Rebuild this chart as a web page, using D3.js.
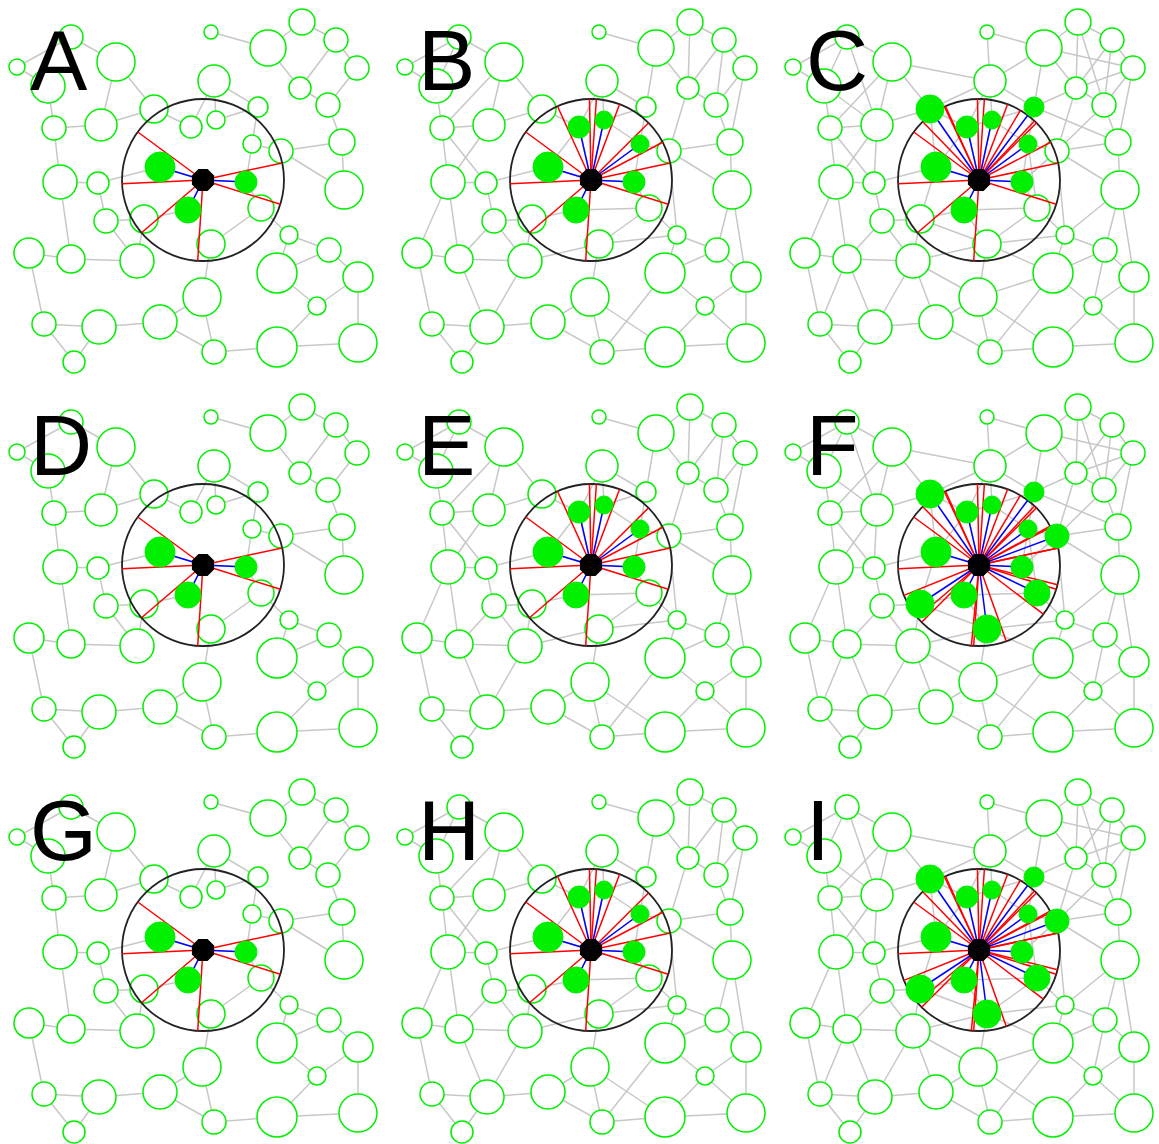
<!DOCTYPE html>
<html>
<head>
<meta charset="utf-8">
<script src="https://cdn.jsdelivr.net/npm/d3@7/dist/d3.min.js"></script>
<style>
  html, body { margin: 0; padding: 0; background: #fff; }
  svg { display: block; }
</style>
</head>
<body>
<svg id="chart" width="1159" height="1144"></svg>
<script>
// Layout coordinates of the network nodes (same layout in every panel).
// Node 0 is the focal node.
const nodeX = [203, 17, 71, 48, 116, 154, 101, 54, 191, 60, 98, 160, 211, 268, 302, 336, 357, 300, 328, 214,
               258, 216, 252, 281, 342, 344, 246, 106, 144, 188, 29, 71, 137, 44, 99, 160, 74, 261, 211, 289,
               329, 277, 358, 202, 317, 214, 277, 358];
const nodeY = [180, 67, 37, 86, 62, 109, 125, 128, 127, 182, 183, 167, 32, 48, 22, 40, 68, 88, 105, 81,
               107, 120, 144, 151, 142, 190, 182, 221, 219, 210, 253, 259, 261, 324, 327, 322, 362, 208, 244, 235,
               250, 273, 277, 297, 306, 352, 347, 343];
const nodeSize = [12, 8, 12, 17, 19, 14, 16, 12, 11, 17, 11, 15, 7, 18, 13, 12, 12, 11, 12, 16,
                  10, 9, 9, 12, 13, 19, 11, 12, 14, 13, 15, 14, 17, 12, 17, 17, 11, 13, 14, 9,
                  12, 20, 15, 19, 9, 12, 20, 19];

// Edge sets: sparse network, plus the links added for the medium and dense networks.
const edgesSparse = [[1,2],[1,3],[2,4],[3,7],[4,5],[4,6],[5,6],[6,7],[7,9],[9,10],[10,11],[5,8],[8,19],
  [19,20],[19,21],[20,21],[20,22],[22,23],[22,26],[23,24],[23,25],[24,25],[18,24],[16,18],[15,16],[17,18],
  [15,17],[13,17],[14,15],[13,14],[12,13],[26,37],[37,39],[37,38],[38,43],[39,41],[39,40],[40,41],[40,42],
  [41,44],[42,44],[42,47],[44,46],[46,47],[45,46],[43,45],[35,45],[35,43],[34,35],[33,34],[33,36],[34,36],
  [30,33],[30,31],[31,32],[9,31],[10,27],[27,28],[27,32],[28,29],[28,32],[0,11],[0,26],[0,29]];
const edgesMediumExtra = [[14,17],[15,18],[13,20],[16,24],[25,40],[25,42],[23,39],[31,34],[32,34],[4,7],
  [6,9],[7,10],[9,30],[27,31],[38,39],[41,45],[43,46],[44,47],[29,37],[32,38],[17,23],[2,3],[0,8],[0,21],
  [0,22],[8,11],[21,22]];
const edgesDenseExtra = [[2,6],[3,6],[6,10],[4,19],[5,19],[31,33],[32,35],[32,43],[14,18],[13,16],[13,19],
  [16,17],[17,20],[18,23],[20,24],[23,26],[25,39],[38,41],[41,43],[40,44],[28,38],[11,28],[29,38],[0,5],
  [0,20],[5,11],[8,21],[22,37],[12,19],[26,23]];

// Highlighted (filled) neighbours of the focal node, panel by panel (A..I).
const panelLabels = ["A", "B", "C", "D", "E", "F", "G", "H", "I"];
const filledA = [11, 26, 29];
const filledB = [11, 8, 21, 22, 26, 29];
const filledC = [5, 8, 21, 20, 22, 11, 26, 29];
const filledF = [5, 8, 21, 20, 22, 23, 11, 26, 37, 28, 29, 38];
const panelFilled = [filledA, filledB, filledC, filledA, filledB, filledF, filledA, filledB, filledF];
const panelEdgeLevel = [0, 1, 2, 0, 1, 2, 0, 1, 2];
const neighbourhoodRadius = 81;

const svg = d3.select("#chart");
const panelStepX = 388, panelStepY = 385;

const edgeSets = [
  edgesSparse,
  edgesSparse.concat(edgesMediumExtra),
  edgesSparse.concat(edgesMediumExtra, edgesDenseExtra)
];

const GREEN = "#00f000";

panelLabels.forEach((label, p) => {
  const col = p % 3, row = Math.floor(p / 3);
  const x = d3.scaleLinear().domain([0, 385]).range([col * panelStepX, col * panelStepX + 385]);
  const y = d3.scaleLinear().domain([0, 385]).range([row * panelStepY, row * panelStepY + 385]);
  const r = d3.scaleLinear().domain([0, 20]).range([0, 20]);

  const g = svg.append("g");
  const nodes = nodeX.map((nx, i) => ({ i, x: nx, y: nodeY[i], s: nodeSize[i] }));
  const filled = new Set(panelFilled[p]);
  const c = nodes[0];
  const cx = x(c.x), cy = y(c.y);
  const R = x(neighbourhoodRadius) - x(0);

  // network links
  g.selectAll("line.edge").data(edgeSets[panelEdgeLevel[p]]).join("line")
    .attr("class", "edge")
    .attr("x1", d => x(nodes[d[0]].x)).attr("y1", d => y(nodes[d[0]].y))
    .attr("x2", d => x(nodes[d[1]].x)).attr("y2", d => y(nodes[d[1]].y))
    .attr("stroke", "#c8c8c8").attr("stroke-width", 1.5);

  // ordinary nodes
  g.selectAll("circle.node").data(nodes.filter(d => d.i !== 0 && !filled.has(d.i))).join("circle")
    .attr("class", "node")
    .attr("cx", d => x(d.x)).attr("cy", d => y(d.y)).attr("r", d => r(d.s))
    .attr("fill", "#fff").attr("stroke", GREEN).attr("stroke-width", 1.5);

  // neighbourhood circle
  g.append("circle").attr("cx", cx).attr("cy", cy).attr("r", R)
    .attr("fill", "none").attr("stroke", "#222").attr("stroke-width", 1.8);

  // tangent rays bounding each highlighted node, as seen from the focal node
  const rays = [];
  nodes.filter(d => filled.has(d.i)).forEach(d => {
    const dx = x(d.x) - cx, dy = y(d.y) - cy;
    const dist = Math.hypot(dx, dy);
    const a = Math.atan2(dy, dx);
    const half = Math.asin(Math.min(1, r(d.s) / dist));
    rays.push(a - half, a + half);
  });
  g.selectAll("line.ray").data(rays).join("line")
    .attr("class", "ray")
    .attr("x1", cx).attr("y1", cy)
    .attr("x2", a => cx + R * Math.cos(a)).attr("y2", a => cy + R * Math.sin(a))
    .attr("stroke", "#ff0000").attr("stroke-width", 1.5);

  // links from the focal node to highlighted nodes
  g.selectAll("line.link").data(nodes.filter(d => filled.has(d.i))).join("line")
    .attr("class", "link")
    .attr("x1", cx).attr("y1", cy)
    .attr("x2", d => x(d.x)).attr("y2", d => y(d.y))
    .attr("stroke", "#0000ff").attr("stroke-width", 1.5);

  // highlighted nodes
  g.selectAll("circle.hl").data(nodes.filter(d => filled.has(d.i))).join("circle")
    .attr("class", "hl")
    .attr("cx", d => x(d.x)).attr("cy", d => y(d.y)).attr("r", d => r(d.s))
    .attr("fill", GREEN).attr("stroke", GREEN).attr("stroke-width", 1);

  // focal node as an octagon
  const rc = r(c.s);
  const oct = d3.range(8).map(k => {
    const a = Math.PI / 8 + k * Math.PI / 4;
    return [cx + rc * Math.cos(a), cy + rc * Math.sin(a)];
  });
  g.append("path").attr("d", d3.line()(oct) + "Z").attr("fill", "#000");

  // panel letter
  g.append("text")
    .attr("x", x(30)).attr("y", y(90))
    .attr("font-family", "Liberation Sans, Arial, sans-serif")
    .attr("font-size", 86)
    .attr("fill", "#000")
    .text(label);
});
</script>
</body>
</html>
